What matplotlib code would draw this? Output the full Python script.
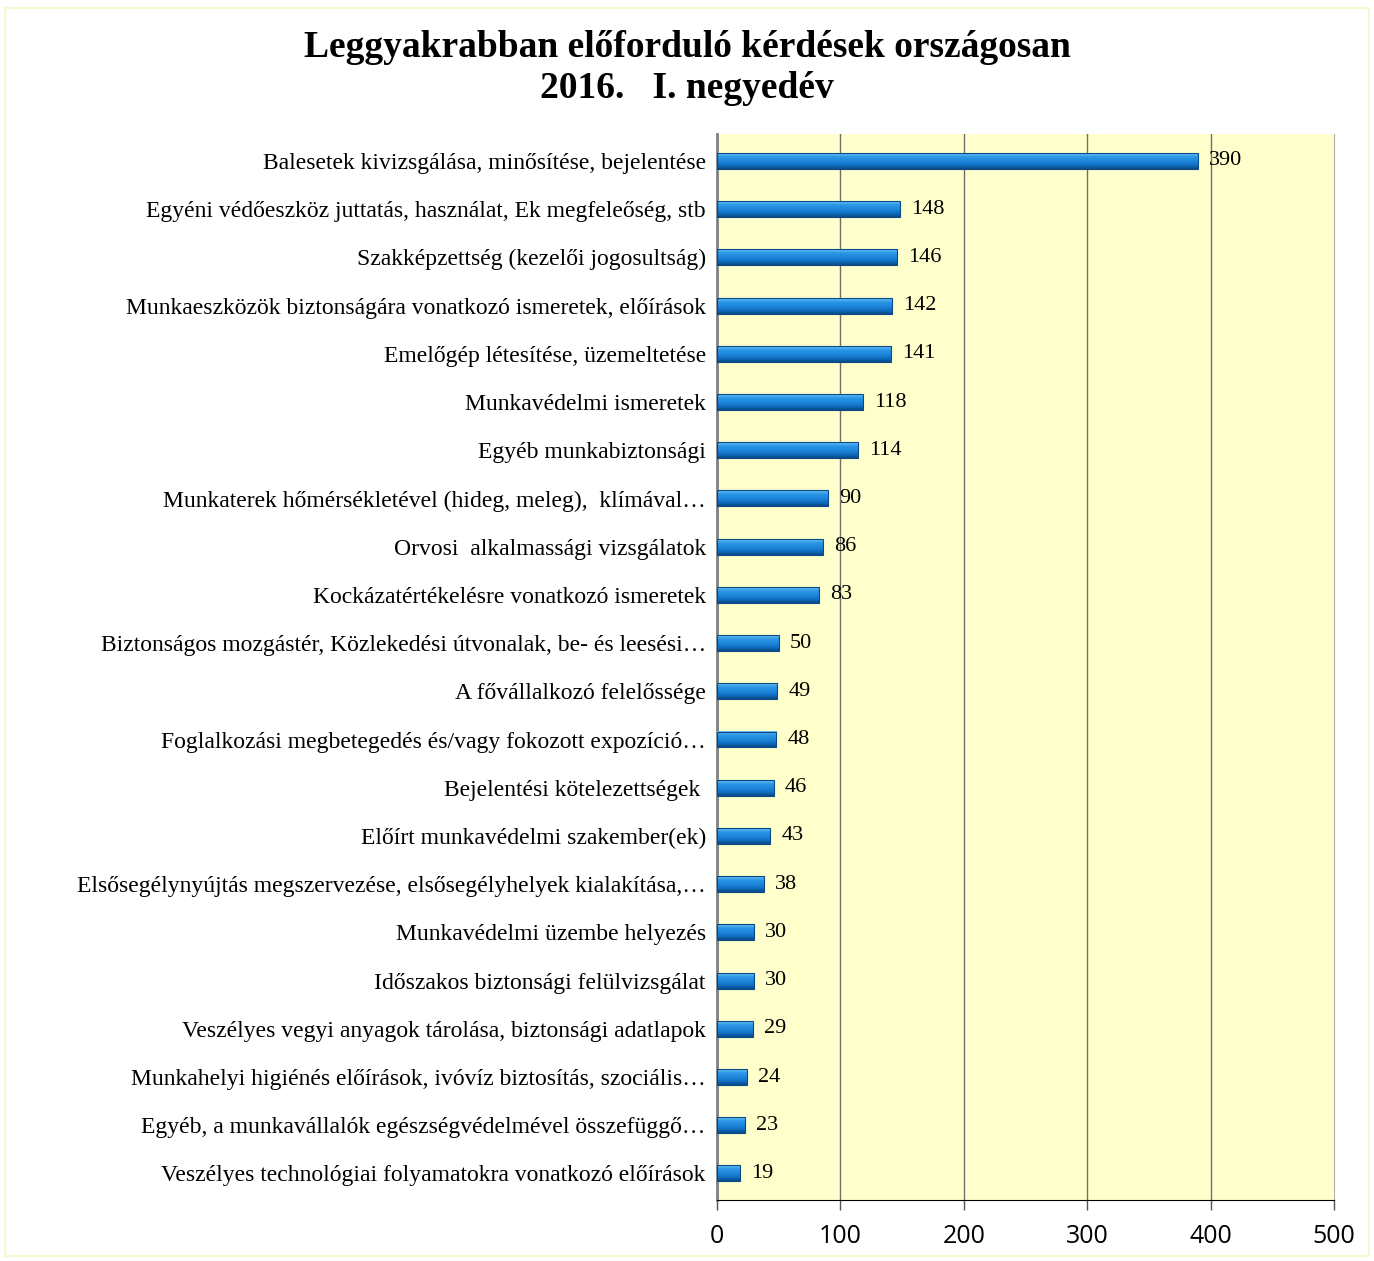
import numpy as np
import matplotlib
matplotlib.use('Agg')
import matplotlib.pyplot as plt
import matplotlib.patches as pa
from matplotlib.colors import LinearSegmentedColormap

# data, top to bottom as in the chart
labels=['Balesetek kivizsgálása, minősítése, bejelentése',
	'Egyéni védőeszköz juttatás, használat, Ek megfeleőség, stb',
	'Szakképzettség (kezelői jogosultság)',
	'Munkaeszközök biztonságára vonatkozó ismeretek, előírások',
	'Emelőgép létesítése, üzemeltetése',
	'Munkavédelmi ismeretek',
	'Egyéb munkabiztonsági',
	'Munkaterek hőmérsékletével (hideg, meleg),  klímával…',
	'Orvosi  alkalmassági vizsgálatok',
	'Kockázatértékelésre vonatkozó ismeretek',
	'Biztonságos mozgástér, Közlekedési útvonalak, be- és leesési…',
	'A fővállalkozó felelőssége',
	'Foglalkozási megbetegedés és/vagy fokozott expozíció…',
	'Bejelentési kötelezettségek ',
	'Előírt munkavédelmi szakember(ek)',
	'Elsősegélynyújtás megszervezése, elsősegélyhelyek kialakítása,…',
	'Munkavédelmi üzembe helyezés',
	'Időszakos biztonsági felülvizsgálat',
	'Veszélyes vegyi anyagok tárolása, biztonsági adatlapok',
	'Munkahelyi higiénés előírások, ivóvíz biztosítás, szociális…',
	'Egyéb, a munkavállalók egészségvédelmével összefüggő…',
	'Veszélyes technológiai folyamatokra vonatkozó előírások']
values=[390,148,146,142,141,118,114,90,86,83,50,49,48,46,43,38,30,30,29,24,23,19]
xticks=[0,100,200,300,400,500]

fig=plt.figure(figsize=(13.74,12.61),dpi=100)
fig.patch.set_facecolor('white')
# faint yellow frame round the chart
fig.add_artist(pa.Rectangle((0.004,0.004),0.992,0.990,transform=fig.transFigure,fill=False,edgecolor='#f8f6c8',lw=1.2))

ax=fig.add_axes([0.5218,0.0484,0.4491,0.845])
ax.set_facecolor('#ffffcc')
n=len(values)
y=np.arange(n)[::-1]
h=0.33
# bottom -> top gradient for the 3d look
bcm=LinearSegmentedColormap.from_list('bar',['#0a4a88','#1070c4','#1e88dc','#2a94e6','#6cc4f7'])
grad=np.linspace(0,1,50).reshape(-1,1)
for yy,v in zip(y,values):
	ax.imshow(grad,extent=[0,v,yy-h/2,yy+h/2],origin='lower',aspect='auto',cmap=bcm,zorder=3,interpolation='bilinear')
	ax.add_patch(pa.Rectangle((0,yy-h/2),v,h,fill=False,edgecolor='#0b4a86',lw=0.8,zorder=4))
	ax.text(v+9,yy,str(v),va='center',ha='left',fontsize=16,family='Liberation Serif',zorder=5)

ax.set_xlim(0,500)
ax.set_ylim(-0.55,n-0.45)
ax.set_aspect('auto')
ax.set_xticks(xticks)
ax.set_xticklabels([str(t) for t in xticks],fontsize=18,family='Open Sans')
ax.tick_params(axis='x',length=7,width=1,color='#555555',pad=10)
ax.set_yticks(y)
ax.set_yticklabels(labels,fontsize=17,family='Liberation Serif')
ax.tick_params(axis='y',length=0,pad=8)
for t in xticks[1:-1]:
	ax.axvline(t,color='#707070',lw=1,zorder=1)
ax.spines['top'].set_visible(False)
ax.spines['right'].set_color('#b0b0b0')
ax.spines['left'].set_color('#808080')
ax.spines['left'].set_linewidth(2)
ax.spines['bottom'].set_color('black')

fig.text(0.5,0.962,'Leggyakrabban előforduló kérdések országosan',ha='center',va='center',fontsize=27,fontweight='bold',family='Liberation Serif')
fig.text(0.5,0.930,'2016.   I. negyedév',ha='center',va='center',fontsize=27,fontweight='bold',family='Liberation Serif')

fig.savefig('out.png',dpi=100)
